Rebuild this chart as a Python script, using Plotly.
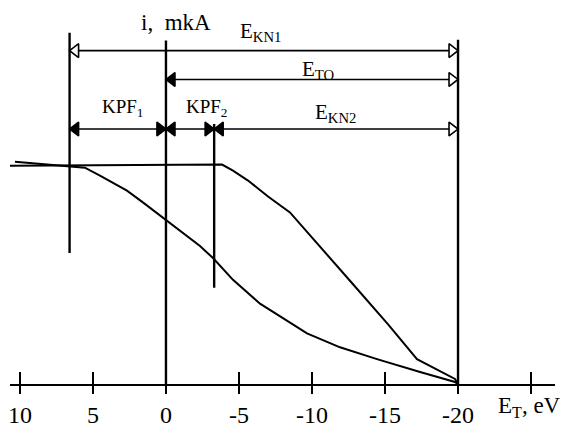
import plotly.graph_objects as go

# Retarding-field current curves: energy E_T (eV) vs current i (relative units)
e_lower = [10.34, 8.63, 6.78, 5.55, 4.52, 3.36, 2.67, 1.58, 0.14, -0.96, -2.33, -3.22,
           -4.59, -6.44, -8.49, -9.66, -11.92, -14.45, -17.4, -19.79, -20.0]
i_lower = [1.018, 1.009, 1.0, 0.991, 0.955, 0.914, 0.886, 0.832, 0.759, 0.705, 0.632, 0.577,
           0.477, 0.368, 0.282, 0.232, 0.168, 0.114, 0.055, 0.009, 0.0]

e_upper = [10.68, -3.84, -4.59, -5.62, -6.99, -8.49, -12.6, -15.21,
           -17.19, -19.79, -20.0]
i_upper = [1.0, 1.005, 0.977, 0.932, 0.859, 0.786, 0.473, 0.273,
           0.114, 0.023, 0.0]

# Vertical reference lines
ref_e = [6.6, 0.0, -3.3, -20.0]
ref_top = [1.609, 1.573, 1.191, 1.577]
ref_bottom = [0.60, 0.0, 0.441, 0.0]

# Dimension arrows between reference lines
dim_from = [6.6, 0.0, 6.6, 0.0, -3.3]
dim_to = [-20.0, -20.0, 0.0, -3.3, -20.0]
dim_level = [1.527, 1.395, 1.168, 1.168, 1.168]
dim_fill_from = [False, True, True, True, True]
dim_fill_to = [False, False, True, True, False]

dim_text = ["E<sub>KN1</sub>", "E<sub>TO</sub>", "KPF<sub>1</sub>", "KPF<sub>2</sub>", "E<sub>KN2</sub>"]
dim_text_e = [-6.44, -10.4, 2.95, -2.8, -11.64]
dim_text_i = [1.614, 1.44, 1.264, 1.264, 1.24]
dim_text_size = [21, 21, 19, 19, 21]

# Axis ticks
tick_vals = [10, 5, 0, -5, -10, -15, -20, -25]
tick_text = ["10", "5", "0", "-5", "-10", "-15", "-20", ""]

X_RANGE = [10.68, -26.64]
Y_RANGE = [0, 1.759]
FONT = "Liberation Serif"
HEAD = 12                       # arrowhead marker size, px
PX_PER_EV = 545 / (X_RANGE[0] - X_RANGE[1])
HEAD_SHIFT = (HEAD / 2) / PX_PER_EV

fig = go.Figure()

line = dict(color="black", width=2)
fig.add_trace(go.Scatter(x=e_lower, y=i_lower, mode="lines", line=line, hoverinfo="skip"))
fig.add_trace(go.Scatter(x=e_upper, y=i_upper, mode="lines", line=line, hoverinfo="skip"))

for e, top, bot in zip(ref_e, ref_top, ref_bottom):
    fig.add_trace(go.Scatter(x=[e, e], y=[bot, top], mode="lines",
                             line=dict(color="black", width=2.4), hoverinfo="skip"))

for a, b, lvl, fa, fb in zip(dim_from, dim_to, dim_level, dim_fill_from, dim_fill_to):
    fig.add_trace(go.Scatter(x=[a, b], y=[lvl, lvl], mode="lines",
                             line=dict(color="black", width=1.6), hoverinfo="skip"))
    # energy decreases to the right, so 'a' is the left end
    fig.add_trace(go.Scatter(
        x=[a - HEAD_SHIFT, b + HEAD_SHIFT], y=[lvl, lvl], mode="markers",
        marker=dict(symbol=["triangle-left", "triangle-right"], size=HEAD,
                    color=["black" if fa else "white", "black" if fb else "white"],
                    line=dict(color="black", width=1.6)),
        cliponaxis=False, hoverinfo="skip"))

# overlay axis carrying the upper half of the crossing ticks
fig.add_trace(go.Scatter(x=[0], y=[0], mode="markers", marker=dict(opacity=0),
                         xaxis="x2", yaxis="y", hoverinfo="skip"))

annotations = []
for t, e, i, s in zip(dim_text, dim_text_e, dim_text_i, dim_text_size):
    annotations.append(dict(x=e, y=i, text=t, showarrow=False,
                            font=dict(family=FONT, size=s, color="black")))
annotations.append(dict(x=-0.68, y=1.655, text="i,  mkA", showarrow=False,
                        font=dict(family=FONT, size=23, color="black")))
# axis title sits below the plotting area, so it is placed in paper units vertically
annotations.append(dict(x=-24.9, y=-0.105 / Y_RANGE[1], yref="paper",
                        xanchor="center", yanchor="middle",
                        text="E<sub>T</sub>, eV", showarrow=False,
                        font=dict(family=FONT, size=23, color="black")))

fig.update_layout(
    width=573, height=428,
    margin=dict(l=10, r=18, t=0, b=41),
    paper_bgcolor="white", plot_bgcolor="white",
    showlegend=False,
    annotations=annotations,
    xaxis=dict(range=X_RANGE, showgrid=False, zeroline=False,
               showline=True, linecolor="black", linewidth=2,
               ticks="outside", ticklen=8, tickwidth=2, tickcolor="black",
               tickvals=tick_vals, ticktext=tick_text,
               tickfont=dict(family=FONT, size=24, color="black")),
    xaxis2=dict(range=X_RANGE, overlaying="x", anchor="y", side="bottom",
                showgrid=False, zeroline=False, showline=False,
                ticks="inside", ticklen=12, tickwidth=2, tickcolor="black",
                tickvals=tick_vals, showticklabels=False),
    yaxis=dict(range=Y_RANGE, visible=False, showgrid=False, zeroline=False),
)

fig.write_html("out.html")
